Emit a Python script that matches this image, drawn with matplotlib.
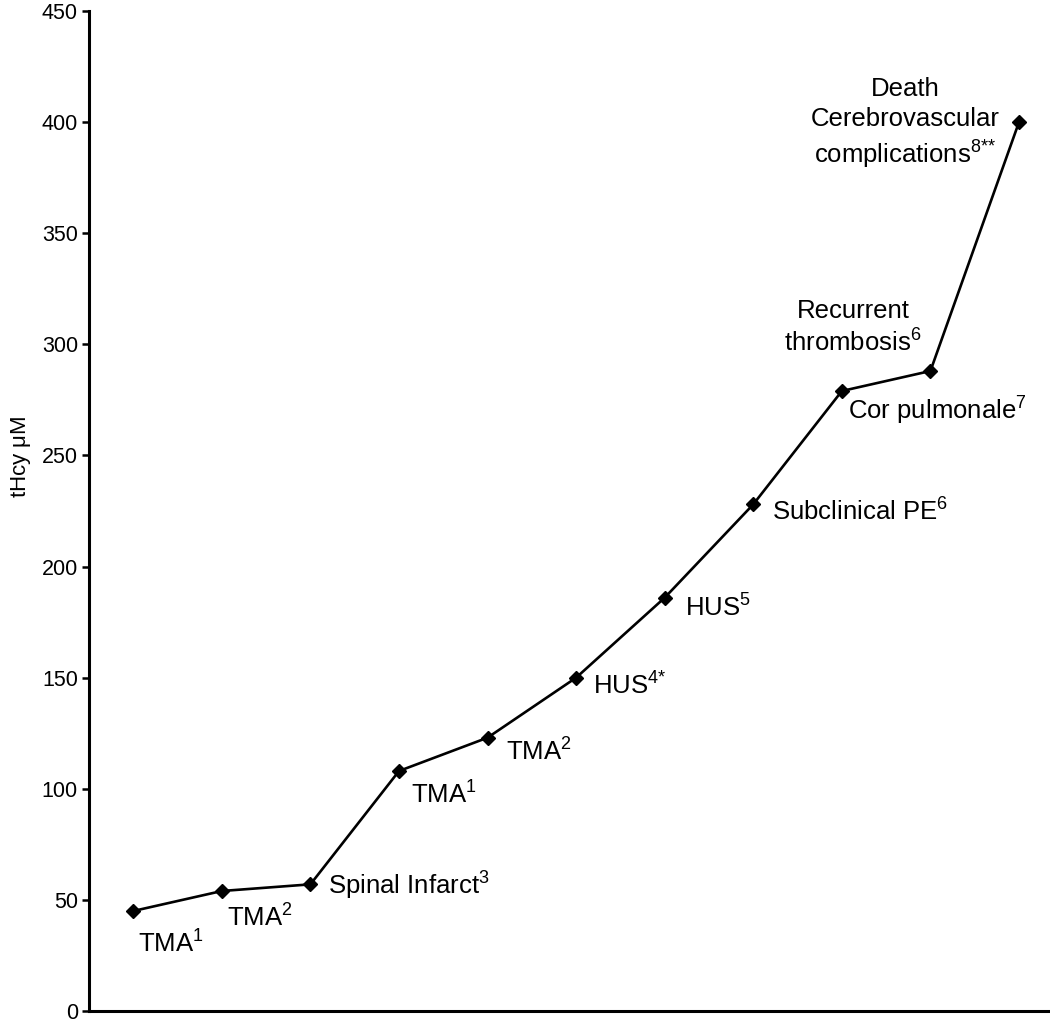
import matplotlib
matplotlib.use("Agg")
import matplotlib.pyplot as plt

plt.rcParams['font.family'] = ['Liberation Sans', 'DejaVu Sans']
plt.rcParams['mathtext.fontset'] = 'custom'
plt.rcParams['mathtext.rm'] = 'Liberation Sans'
plt.rcParams['mathtext.it'] = 'Liberation Sans'
plt.rcParams['mathtext.bf'] = 'Liberation Sans'

# Data
events = list(range(1, 12))
thcy = [45, 54, 57, 108, 123, 150, 186, 228, 279, 288, 400]
labels = [
    r'TMA$^{1}$',
    r'TMA$^{2}$',
    r'Spinal Infarct$^{3}$',
    r'TMA$^{1}$',
    r'TMA$^{2}$',
    r'HUS$^{4{*}}$',
    r'HUS$^{5}$',
    r'Subclinical PE$^{6}$',
    'Recurrent\n' + r'thrombosis$^{6}$',
    r'Cor pulmonale$^{7}$',
    'Death\nCerebrovascular\n' + r'complications$^{8{*}{*}}$',
]
yticks = [0, 50, 100, 150, 200, 250, 300, 350, 400, 450]

# label placement (pixel offsets, alignment)
offsets = [(5, -33, 'left'), (5, -27, 'left'), (18, -2, 'left'), (12, -24, 'left'),
           (18, -14, 'left'), (17, -8, 'left'), (20, -10, 'left'), (19, -8, 'left'),
           (11, 63, 'center'), (-82, -40, 'left'), (-114, -2, 'center')]

fig = plt.figure(figsize=(10.5, 10.21), dpi=100)
ax = fig.add_axes([89/1050, 1 - 1011/1021, 1 - 89/1050, (1011 - 11)/1021])

ax.plot(events, thcy, color='black', lw=1.9, marker='D', ms=7.5,
        markerfacecolor='black', markeredgecolor='black')

for x, y, lab, (dx, dy, ha) in zip(events, thcy, labels, offsets):
    ax.annotate(lab, (x, y), xytext=(dx, dy), textcoords='offset pixels',
                ha=ha, va='center', fontsize=18.5, multialignment='center',
                linespacing=1.3)

ax.set_xlim(0.5, 11.35)
ax.set_ylim(0, 450)
ax.set_yticks(yticks)
ax.set_xticks([])
ax.tick_params(axis='y', direction='out', length=5, width=1.8, labelsize=15.5, pad=3)
for s in ['top', 'right']:
    ax.spines[s].set_visible(False)
for s in ['left', 'bottom']:
    ax.spines[s].set_linewidth(2.2)
ax.set_ylabel(r'tHcy $\mu$M', fontsize=16)
ax.yaxis.set_label_coords(-0.058, 0.554)

fig.savefig('out.png', dpi=100)
